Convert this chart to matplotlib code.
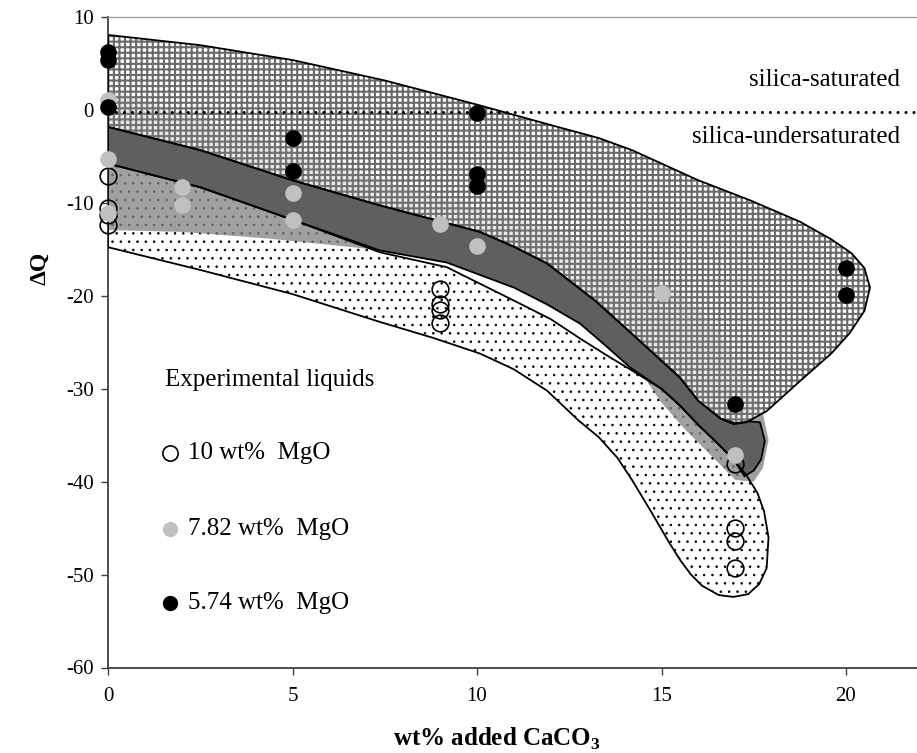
import matplotlib
matplotlib.use('Agg')
import matplotlib.pyplot as plt
from matplotlib.patches import Polygon

plt.rcParams['font.family'] = ['Liberation Serif', 'DejaVu Serif']
plt.rcParams['axes.unicode_minus'] = False
plt.rcParams['mathtext.fontset'] = 'custom'
plt.rcParams['mathtext.rm'] = 'Liberation Serif'
plt.rcParams['mathtext.bf'] = 'Liberation Serif:bold'

# Experimental liquids (wt% added CaCO3 vs delta Q)
mg10_x = [0, 0, 0, 0, 9, 9, 9, 9, 17, 17, 17, 17]
mg10_y = [-7.1, -10.5, -11.3, -12.4, -19.3, -20.85, -21.5, -22.9, -38.1, -44.95, -46.4, -49.3]
mg782_x = [0, 0, 0, 2, 2, 5, 5, 9, 10, 15, 17]
mg782_y = [1.1, -5.3, -11.1, -8.3, -10.25, -8.9, -11.8, -12.2, -14.6, -19.7, -37.1]
mg574_x = [0, 0, 0, 5, 5, 10, 10, 10, 17, 20, 20]
mg574_y = [6.3, 5.4, 0.35, -2.95, -6.5, -0.3, -6.9, -8.2, -31.6, -17.0, -19.9]

# Field outlines
grid_field = [(0, 8.1), (2.5, 7.0), (5, 5.4), (7.5, 3.2), (10, 0.6), (12, -1.6),
              (13.3, -3.0), (14.2, -4.3), (16, -7.55), (17.4, -9.7), (18.75, -12.0),
              (19.6, -13.9), (20.15, -15.4), (20.5, -17.0), (20.65, -19.1), (20.5, -21.6),
              (20.1, -24.0), (19.6, -26.2), (18.8, -29.0), (17.85, -32.4), (17.3, -33.6),
              (16.95, -33.8), (16.6, -33.2), (16.0, -31.3), (15.5, -28.8), (14.4, -24.8),
              (13.2, -20.5), (11.9, -16.5), (11.0, -14.7), (10.08, -13.1), (7.37, -10.25),
              (5, -7.55), (2.5, -4.3), (0, -1.8)]
band_field = [(0, -1.8), (2.5, -4.3), (5, -7.55), (7.37, -10.25), (10.08, -13.1),
              (11.0, -14.7), (11.9, -16.5), (13.2, -20.5), (14.4, -24.8), (15.5, -28.8),
              (16.0, -31.3), (16.6, -33.2), (17.0, -33.7), (17.4, -33.5), (17.67, -33.6),
              (17.8, -35.6), (17.7, -37.6), (17.5, -38.8), (17.25, -39.4), (16.95, -37.6),
              (16.5, -35.8), (16.0, -33.9), (15.5, -31.8), (15.0, -30.0), (14.15, -27.7),
              (13.5, -25.4), (12.8, -23.0), (11.9, -20.9), (11.0, -19.1), (9.18, -16.4),
              (7.37, -15.1), (5, -11.8), (2.5, -8.3), (0, -5.75)]
dot_field = [(0, -5.75), (2.5, -8.3), (5, -11.8), (7.37, -15.3), (9.18, -16.9),
             (11.0, -20.5), (12.0, -22.5), (12.8, -24.6), (13.6, -26.6), (14.15, -27.9),
             (15.0, -30.0), (15.5, -31.8), (16.0, -33.9), (16.5, -35.8), (16.95, -37.6),
             (17.3, -39.3), (17.6, -41.2), (17.78, -43.2), (17.9, -46.0), (17.85, -49.3),
             (17.65, -51.0), (17.35, -52.1), (16.95, -52.4), (16.55, -52.2), (16.1, -51.2),
             (15.8, -50.0), (15.5, -48.4), (15.2, -46.5), (14.7, -43.1), (14.2, -39.8),
             (13.8, -37.4), (13.3, -35.2), (12.75, -33.4), (11.9, -30.2), (11.0, -27.9),
             (10.08, -26.2), (8.8, -24.5), (7.37, -22.8), (5, -19.8), (2.5, -17.2), (0, -14.75)]
shade_field = [(0, 2.3), (2.5, -1.0), (5, -4.4), (7.45, -7.55), (9.18, -9.7),
               (11.9, -12.6), (13.7, -15.8), (15.0, -18.3), (16.0, -21.4), (16.5, -23.7),
               (16.95, -26.4), (17.4, -29.8), (17.75, -32.7), (17.9, -35.5), (17.75, -38.5),
               (17.5, -40.0), (17.0, -39.8), (16.3, -37.0), (15.6, -34.2), (14.96, -31.3),
               (14.6, -29.1), (14.15, -27.7), (12.8, -23.0), (11.0, -19.1), (9.18, -16.4),
               (7.37, -15.1), (7.0, -14.9), (4.3, -13.8), (2.0, -13.1), (0, -12.9)]

sat_level = -0.2
legend_labels = ['10 wt%  MgO', '7.82 wt%  MgO', '5.74 wt%  MgO']
legend_y = [-36.9, -45.1, -53.1]


def field(points, hatch_lw=None, **kw):
    p = Polygon(points, closed=True, **kw)
    if hatch_lw is not None and hasattr(p, 'set_hatch_linewidth'):
        p.set_hatch_linewidth(hatch_lw)
    ax.add_patch(p)
    return p


fig = plt.figure(figsize=(9.17, 7.53), dpi=100)
ax = fig.add_axes([108 / 917, 85.5 / 753, 1 - 108 / 917, 650.2 / 753])

# fields
with plt.rc_context({'hatch.linewidth': 0.6}):
    field(dot_field, hatch_lw=0.6, facecolor='white', edgecolor='black',
          hatch='..', lw=0, zorder=1)
field(shade_field, facecolor='#808080', edgecolor='none', alpha=0.7, lw=0, zorder=1.5)
with plt.rc_context({'hatch.linewidth': 1.5}):
    field(grid_field, hatch_lw=1.5, facecolor='white', edgecolor='#6a6a6a',
          hatch='+++', lw=0, zorder=2)
field(shade_field, facecolor='#8c8c8c', edgecolor='none', alpha=0.2, lw=0, zorder=3)
field(band_field, facecolor='#5f5f5f', edgecolor='black', lw=1.3, zorder=4)
field(grid_field, facecolor='none', edgecolor='black', lw=1.3, zorder=5)
field(dot_field, facecolor='none', edgecolor='black', lw=1.3, zorder=5)

ax.plot([0, 22], [sat_level, sat_level], color='black', lw=2.2,
        linestyle=(0, (0.01, 2.6)), dash_capstyle='round', zorder=6)

ms = 12
ax.plot(mg10_x, mg10_y, 'o', ms=ms, mfc='none', mec='black', mew=1.2, zorder=7, clip_on=False)
ax.plot(mg782_x, mg782_y, 'o', ms=ms, mfc='#c0c0c0', mec='#c0c0c0', mew=0, zorder=8, clip_on=False)
ax.plot(mg574_x, mg574_y, 'o', ms=ms, mfc='black', mec='black', mew=0, zorder=9, clip_on=False)

ax.text(21.46, 3.2, 'silica-saturated', ha='right', va='center', fontsize=18)
ax.text(21.46, -2.9, 'silica-undersaturated', ha='right', va='center', fontsize=18)

# legend
ax.text(1.545, -29.1, 'Experimental liquids', ha='left', va='center', fontsize=18)
ax.plot(1.68, legend_y[0], 'o', ms=11, mfc='white', mec='black', mew=1.2)
ax.plot(1.68, legend_y[1], 'o', ms=11, mfc='#c0c0c0', mec='#c0c0c0', mew=0)
ax.plot(1.68, legend_y[2], 'o', ms=11, mfc='black', mec='black', mew=0)
for lab, yy in zip(legend_labels, legend_y):
    ax.text(2.17, yy, lab, ha='left', va='center', fontsize=18)

ax.set_xlim(0, (917 - 108) / 36.9)
ax.set_ylim(-60, 10)
ax.set_xticks([0, 5, 10, 15, 20])
ax.set_yticks(range(-60, 11, 10))
ax.tick_params(direction='out', length=5, width=1, color='#404040', labelsize=15)
ax.tick_params(axis='x', pad=9)
ax.tick_params(axis='y', pad=5)
for s in ['left', 'bottom']:
    ax.spines[s].set_color('#404040')
    ax.spines[s].set_linewidth(1.3)
ax.spines['top'].set_color('#a0a0a0')
ax.spines['top'].set_linewidth(1.0)
ax.spines['right'].set_visible(False)

ax.set_xlabel('wt% added CaCO$_\\mathbf{3}$', fontsize=18, fontweight='bold')
ax.xaxis.set_label_coords((497 - 108) / 809, -(726 - 667.5) / 650.2)
ax.set_ylabel('ΔQ', fontsize=17, fontweight='bold')
ax.yaxis.set_label_coords((50 - 108) / 809, (667.5 - 268) / 650.2)

fig.savefig('out.png', dpi=100)
